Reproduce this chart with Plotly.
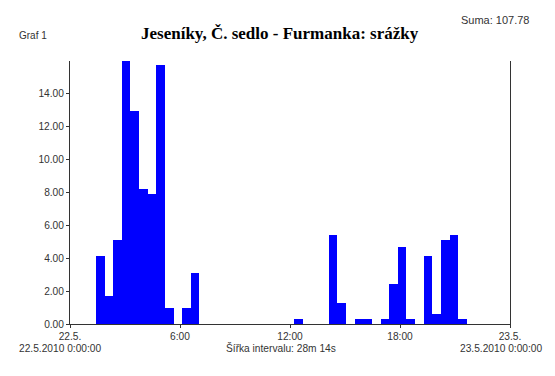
import plotly.graph_objects as go

# 51 intervals of 28m 14s across 22.5.2010 0:00 -> 23.5.2010 0:00
n_bins = 51
precip = [
    0, 0, 0, 4.1, 1.7, 5.1, 16.0, 12.9, 8.2, 7.9,
    15.7, 1.0, 0, 1.0, 3.1, 0, 0, 0, 0, 0,
    0, 0, 0, 0, 0, 0, 0.3, 0, 0, 0,
    5.4, 1.3, 0, 0.3, 0.3, 0, 0.3, 2.4, 4.7, 0.3,
    0, 4.1, 0.6, 5.1, 5.4, 0.3, 0, 0, 0, 0,
    0,
]
tick_hours = [0, 6, 12, 18, 24]
tick_labels = ["22.5.", "6:00", "12:00", "18:00", "23.5."]
y_ticks = [0, 2, 4, 6, 8, 10, 12, 14]

title = "Jeseníky, Č. sedlo - Furmanka: srážky"
graf_label = "Graf 1"
suma_label = "Suma: 107.78"
start_label = "22.5.2010 0:00:00"
end_label = "23.5.2010 0:00:00"
width_label = "Šířka intervalu: 28m 14s"

bin_w = 24.0 / n_bins
x_centers = [(i + 0.5) * bin_w for i in range(n_bins)]

# page has an 8px body margin; figure occupies page pixels 8..555 x 8..376
OFF = 8
FW, FH = 555 - OFF, 376 - OFF
L, R, T, B = 70 - OFF, 555 - 510, 61 - OFF, 376 - 324

fig = go.Figure()
fig.add_trace(go.Bar(
    x=x_centers, y=precip, width=bin_w,
    marker=dict(color="#0000FF", line=dict(width=0)),
    hoverinfo="x+y",
))

tick_font = dict(family="Liberation Sans, Arial, sans-serif", size=10.2, color="#333333")

pw = FW - L - R
ph = FH - T - B


def px_to_paper(px, py):
    fx, fy = px - OFF, py - OFF
    return (fx - L) / pw, (FH - B - fy) / ph


def ann(text, px, py, xanchor, font):
    x, y = px_to_paper(px, py)
    return dict(text=text, x=x, y=y, xref="paper", yref="paper", xanchor=xanchor,
                yanchor="middle", showarrow=False, font=font)


sans = "Liberation Sans, Arial, sans-serif"
fig.update_layout(
    width=FW, height=FH,
    margin=dict(l=L, r=R, t=T, b=B),
    paper_bgcolor="white", plot_bgcolor="white",
    showlegend=False, bargap=0,
    xaxis=dict(
        range=[0, 24], tickmode="array", tickvals=tick_hours, ticktext=tick_labels,
        showgrid=False, zeroline=False, showline=True, linecolor="#333333", linewidth=1,
        ticks="outside", ticklen=3, tickcolor="#333333", tickfont=tick_font,
    ),
    yaxis=dict(
        range=[0, 15.95], tickmode="array", tickvals=y_ticks, tickformat=".2f",
        showgrid=False, zeroline=False, showline=True, linecolor="#333333", linewidth=1,
        mirror=True,
        ticks="outside", ticklen=3, tickcolor="#333333", tickfont=tick_font,
    ),
    annotations=[
        ann("<b>" + title + "</b>", 280, 34, "center",
            dict(family="Liberation Serif, Times New Roman, serif", size=17, color="black")),
        ann(graf_label, 17, 35, "left", dict(family=sans, size=10, color="#333333")),
        ann(suma_label, 459, 20, "left", dict(family=sans, size=11, color="#333333")),
        ann(start_label, 17, 348, "left", tick_font),
        ann(end_label, 544, 348, "right", tick_font),
        ann(width_label, 281, 348, "center", tick_font),
    ],
)

fig.write_html("out.html")
